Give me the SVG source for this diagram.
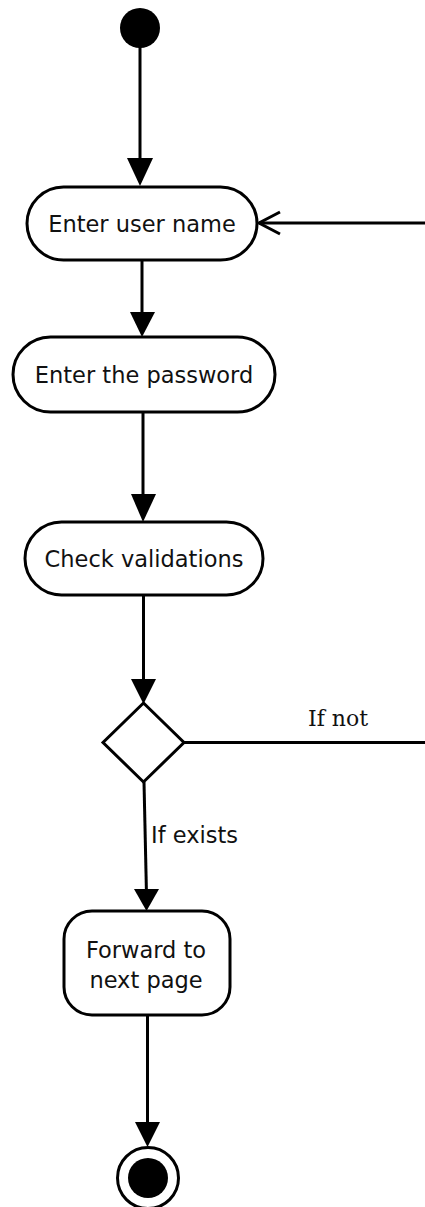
<svg xmlns="http://www.w3.org/2000/svg" width="425" height="1207" viewBox="0 0 425 1207">
<style>
.node{fill:#fff;stroke:#000;stroke-width:3}
.lbl{font-family:"DejaVu Sans",Verdana,sans-serif;font-size:22.5px;fill:#111;text-anchor:middle}
.line{stroke:#000;stroke-width:3;fill:none}
.head{fill:#000;stroke:none}
</style>
<rect width="425" height="1207" fill="#fff"/>
<g id="connectors">
  <line class="line" x1="140" y1="40" x2="140" y2="165"/>
  <polygon class="head" points="127,158 153,158 140,186"/>
  <line class="line" x1="425" y1="223" x2="259" y2="223"/>
  <polyline class="line" points="280,212 259,223 280,234"/>
  <line class="line" x1="142" y1="260" x2="142" y2="318"/>
  <polygon class="head" points="130,312 155,312 142,337"/>
  <line class="line" x1="143" y1="412" x2="143" y2="500"/>
  <polygon class="head" points="131,494 156,494 143,522"/>
  <line class="line" x1="143.5" y1="595" x2="143.5" y2="685"/>
  <polygon class="head" points="131,679 156,679 143.5,704"/>
  <line class="line" x1="184" y1="742.5" x2="425" y2="742.5"/>
  <text x="338" y="726" style="font-family:'DejaVu Serif',serif;font-size:22px;fill:#111;text-anchor:middle">If not</text>
  <line class="line" x1="144" y1="782" x2="146.5" y2="895"/>
  <polygon class="head" points="134,889 159,889 146.5,911"/>
  <text x="151" y="843" style="font-family:'DejaVu Sans',Verdana,sans-serif;font-size:22.5px;fill:#111">If exists</text>
  <line class="line" x1="147.5" y1="1015" x2="147.5" y2="1128"/>
  <polygon class="head" points="135,1122 160,1122 147.5,1147"/>
</g>
<g id="start">
  <circle cx="140" cy="28" r="20" fill="#000"/>
</g>
<g id="n1">
  <rect class="node" x="27" y="187" width="230" height="73" rx="36.5"/>
  <text class="lbl" x="142" y="232">Enter user name</text>
</g>
<g id="n2">
  <rect class="node" x="13" y="337" width="262" height="75" rx="37.5"/>
  <text class="lbl" x="144" y="383">Enter the password</text>
</g>
<g id="n3">
  <rect class="node" x="25" y="522" width="238" height="73" rx="36.5"/>
  <text class="lbl" x="144" y="567">Check validations</text>
</g>
<g id="decision">
  <polygon class="node" points="143.5,703 184,742.5 143.5,782 103,742.5"/>
</g>
<g id="n4">
  <rect class="node" x="64" y="911" width="166" height="104" rx="28"/>
  <text class="lbl" x="146" y="958">Forward to</text>
  <text class="lbl" x="146" y="988">next page</text>
</g>
<g id="end">
  <circle cx="148" cy="1178" r="30.5" fill="#fff" stroke="#000" stroke-width="3"/>
  <circle cx="148" cy="1178" r="20" fill="#000"/>
</g>
</svg>
